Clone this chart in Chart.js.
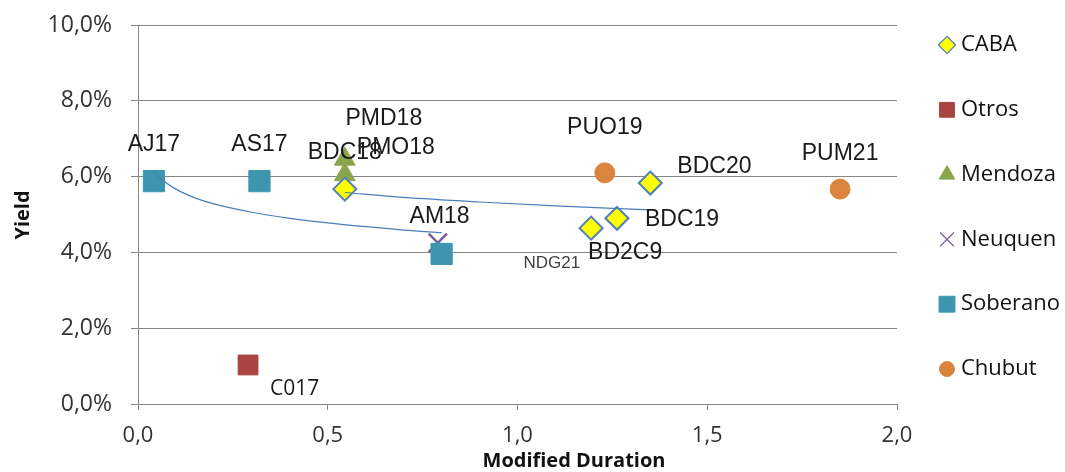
<!DOCTYPE html>
<html>
<head>
<meta charset="utf-8">
<script src="https://cdn.jsdelivr.net/npm/chart.js@4"></script>
<style>
  html, body { margin: 0; padding: 0; background: #fff; }
  #wrap { width: 1065px; height: 472px; position: relative; }
</style>
</head>
<body>
<div id="wrap"><canvas id="yield-chart"></canvas></div>
<script>
// Series data (duration, yield in %)
const cabaNames = ['BDC18', 'BD2C9', 'BDC19', 'BDC20'];
const cabaDur = [0.545, 1.194, 1.262, 1.35];
const cabaYield = [5.67, 4.64, 4.90, 5.83];

const otrosNames = ['C017'];
const otrosDur = [0.29];
const otrosYield = [1.03];

const mendozaNames = ['PMD18', 'PMO18'];
const mendozaDur = [0.545, 0.545];
const mendozaYield = [6.46, 6.05];

const neuquenNames = ['NDG21'];
const neuquenDur = [0.79];
const neuquenYield = [4.25];

const soberanoNames = ['AJ17', 'AS17', 'AM18'];
const soberanoDur = [0.042, 0.32, 0.80];
const soberanoYield = [5.88, 5.88, 3.96];

const chubutNames = ['PUO19', 'PUM21'];
const chubutDur = [1.23, 1.85];
const chubutYield = [6.10, 5.67];

// trend lines
const soberanoTrendX = [0.042, 0.06, 0.1, 0.15, 0.2, 0.3, 0.4, 0.5, 0.6, 0.7, 0.8];
const soberanoTrendY = [6.15, 5.95, 5.67, 5.44, 5.28, 5.06, 4.90, 4.78, 4.68, 4.59, 4.52];
const cabaTrendX = [0.545, 0.7, 0.9, 1.1, 1.35];
const cabaTrendY = [5.58, 5.45, 5.33, 5.23, 5.12];

const xTicks = [0, 0.5, 1.0, 1.5, 2.0];
const yTicks = [0, 2, 4, 6, 8, 10];

function pts(xs, ys) {
    return xs.map(function (x, i) { return {x: x, y: ys[i]}; });
}

// label placement, pixels from the marker: [dx, dy, align]
const labelPlace = {
    'AJ17': [0, -36, 'center'], 'AS17': [0, -36, 'center'], 'AM18': [-2, -37, 'center'],
    'C017': [22, 24, 'left'],
    'PMD18': [39, -41, 'center'], 'PMO18': [51, -27, 'center'],
    'BDC18': [0, -36, 'center'], 'BD2C9': [34, 25, 'center'], 'BDC19': [28, 1, 'left'],
    'BDC20': [27, -16, 'left'],
    'NDG21': [114, 20, 'center'],
    'PUO19': [0, -45, 'center'], 'PUM21': [0, -35, 'center']
};

const gridColor = '#868686';
const textColor = '#333333';

var ctx = document.getElementById('yield-chart');

var chartData = {
    datasets: [
        {label: 'CABA', names: cabaNames, data: pts(cabaDur, cabaYield), order: 1,
            pointStyle: 'rectRot', pointRadius: 11.5, backgroundColor: '#FFFF00', borderColor: '#4F7EBD', borderWidth: 2},
        {label: 'Otros', names: otrosNames, data: pts(otrosDur, otrosYield), order: 1,
            pointStyle: 'rect', pointRadius: 14, backgroundColor: '#A94442', borderColor: '#A94442', borderWidth: 1},
        {label: 'Mendoza', names: mendozaNames, data: pts(mendozaDur, mendozaYield), order: 2,
            pointStyle: 'triangle', pointRadius: 12, backgroundColor: '#89A54E', borderColor: '#89A54E', borderWidth: 1},
        {label: 'Neuquen', names: neuquenNames, data: pts(neuquenDur, neuquenYield), order: 2,
            pointStyle: 'crossRot', pointRadius: 13, backgroundColor: '#7A6098', borderColor: '#7A6098', borderWidth: 2.5},
        {label: 'Soberano', names: soberanoNames, data: pts(soberanoDur, soberanoYield), order: 1,
            pointStyle: 'rect', pointRadius: 15, backgroundColor: '#3D96AE', borderColor: '#3D96AE', borderWidth: 1},
        {label: 'Chubut', names: chubutNames, data: pts(chubutDur, chubutYield), order: 1,
            pointStyle: 'circle', pointRadius: 10, backgroundColor: '#DB843D', borderColor: '#DB843D', borderWidth: 1},
        {label: 'trend-soberano', trend: true, data: pts(soberanoTrendX, soberanoTrendY), order: 0,
            showLine: true, pointRadius: 0, borderColor: '#4A7EBB', borderWidth: 1.2, cubicInterpolationMode: 'monotone'},
        {label: 'trend-caba', trend: true, data: pts(cabaTrendX, cabaTrendY), order: 0,
            showLine: true, pointRadius: 0, borderColor: '#4A7EBB', borderWidth: 1.2, cubicInterpolationMode: 'monotone'}
    ]
};

// data labels, legend and axis titles
var extras = {
    id: 'extras',
    afterDatasetsDraw: function (chart) {
        var c = chart.ctx;
        c.save();
        c.textBaseline = 'middle';
        chart.data.datasets.forEach(function (ds, di) {
            if (ds.trend) return;
            var meta = chart.getDatasetMeta(di);
            meta.data.forEach(function (el, i) {
                var name = ds.names[i];
                var p = labelPlace[name] || [0, -36, 'center'];
                if (name === 'NDG21') {
                    c.font = '17px "Liberation Sans"';
                    c.fillStyle = '#404040';
                } else if (name === 'C017') {
                    c.font = '21px "Open Sans"';
                    c.fillStyle = '#1a1a1a';
                } else {
                    c.font = '23px "Liberation Sans"';
                    c.fillStyle = '#1a1a1a';
                }
                c.textAlign = p[2];
                c.fillText(name, el.x + p[0], el.y + p[1]);
            });
        });
        c.restore();
    },
    afterDraw: function (chart) {
        var c = chart.ctx;
        c.save();
        // legend
        var legendY = 45;
        chart.data.datasets.forEach(function (ds) {
            if (ds.trend) return;
            c.fillStyle = ds.backgroundColor;
            c.strokeStyle = ds.borderColor;
            c.lineWidth = ds.pointStyle === 'rectRot' ? 1.2 : (ds.pointStyle === 'crossRot' ? 1.2 : ds.borderWidth);
            Chart.helpers.drawPoint(c, {
                pointStyle: ds.pointStyle,
                radius: ds.pointRadius * 0.75,
                rotation: 0,
                borderWidth: c.lineWidth
            }, 947, legendY);
            c.fillStyle = '#111';
            c.font = '22px "Open Sans"';
            c.textAlign = 'left';
            c.textBaseline = 'middle';
            c.fillText(ds.label, 961, legendY);
            legendY += 64.8;
        });
        // axis titles
        c.fillStyle = '#111';
        c.font = 'bold 20px "Open Sans"';
        c.textAlign = 'center';
        c.textBaseline = 'middle';
        c.fillText('Modified Duration', 574, 461);
        c.translate(23, 215);
        c.rotate(-Math.PI / 2);
        c.fillText('Yield', 0, 0);
        c.restore();
    }
};

var chartOptions = {
    responsive: true,
    maintainAspectRatio: false,
    animation: false,
    layout: {padding: {left: 0, right: 168, top: 25, bottom: 0}},
    plugins: {legend: {display: false}, tooltip: {enabled: false}},
    elements: {line: {fill: false}},
    scales: {
        x: {
            type: 'linear', min: 0, max: 2,
            afterFit: function (s) { s.height = 68; s.paddingLeft = 0; s.paddingRight = 0; },
            afterBuildTicks: function (s) { s.ticks = xTicks.map(function (v) { return {value: v}; }); },
            ticks: {
                color: textColor, padding: 13,
                font: {family: '"Open Sans"', size: 22},
                callback: function (v) { return v.toFixed(1).replace('.', ','); }
            },
            grid: {drawOnChartArea: false, drawTicks: true, tickLength: 6, color: gridColor},
            border: {color: gridColor}
        },
        y: {
            type: 'linear', min: 0, max: 10,
            afterFit: function (s) { s.width = 138; s.paddingTop = 0; s.paddingBottom = 0; },
            afterBuildTicks: function (s) { s.ticks = yTicks.map(function (v) { return {value: v}; }); },
            ticks: {
                color: textColor, padding: 19,
                font: {family: '"Open Sans"', size: 23},
                callback: function (v) { return v.toFixed(1).replace('.', ',') + '%'; }
            },
            grid: {color: gridColor, tickLength: 7},
            border: {color: gridColor}
        }
    }
};

var config = {
    type: 'scatter',
    data: chartData,
    options: chartOptions,
    plugins: [extras]
};

var yieldChart = new Chart(ctx, config);
</script>
</body>
</html>
